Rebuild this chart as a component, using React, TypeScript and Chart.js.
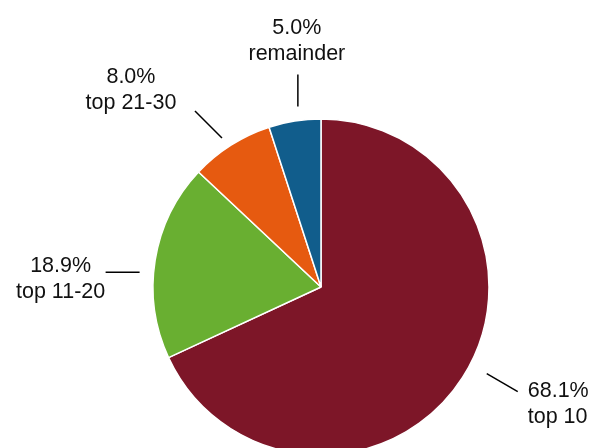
import React, { useEffect, useRef } from 'react';
import { Chart, registerables } from 'chart.js';
Chart.register(...registerables);

const categories = ['top 10', 'top 11-20', 'top 21-30', 'remainder'];
const shares = [68.1, 18.9, 8.0, 5.0];
const colors = ['#7D1628', '#69AF31', '#E65A10', '#115D8C'];

// label layout (styling only)
const angleNudgeDeg = [-5, -4.5, -1.2, 1.7];
const leaderGap = [19, 14, 11, 14];
const leaderVec: [number, number][] = [[31, 18], [-34, 0], [-27, -27], [0, -32]];
const textOffset: [number, number, CanvasTextAlign][] = [
  [10, 5, 'left'],
  [-45, 0, 'center'],
  [-64, -28, 'center'],
  [-1, -40, 'center'],
];
const FONT = '21.5px "Liberation Sans", Arial, Helvetica, sans-serif';
const LINE_H = 26;

const labelPlugin = {
  id: 'leaderLabels',
  afterDatasetsDraw(chart: any) {
    const ctx = chart.ctx;
    const meta = chart.getDatasetMeta(0);
    ctx.save();
    meta.data.forEach((arc: any, i: number) => {
      const { x, y, startAngle, endAngle, outerRadius } = arc.getProps(
        ['x', 'y', 'startAngle', 'endAngle', 'outerRadius'], true);
      const mid = (startAngle + endAngle) / 2 + (angleNudgeDeg[i] * Math.PI) / 180;
      const r = outerRadius + leaderGap[i];
      const sx = x + Math.cos(mid) * r;
      const sy = y + Math.sin(mid) * r;
      const ex = sx + leaderVec[i][0];
      const ey = sy + leaderVec[i][1];
      ctx.strokeStyle = '#000';
      ctx.lineWidth = 1.5;
      ctx.beginPath();
      ctx.moveTo(sx, sy);
      ctx.lineTo(ex, ey);
      ctx.stroke();
      ctx.fillStyle = '#111';
      ctx.font = FONT;
      ctx.textAlign = textOffset[i][2];
      ctx.textBaseline = 'alphabetic';
      const tx = ex + textOffset[i][0];
      const ty = ey + textOffset[i][1];
      ctx.fillText(shares[i].toFixed(1) + '%', tx, ty);
      ctx.fillText(categories[i], tx, ty + LINE_H);
    });
    ctx.restore();
  },
};

export default function App() {
  const ref = useRef<HTMLCanvasElement>(null);
  useEffect(() => {
    if (!ref.current) return;
    const chart = new Chart(ref.current, {
      type: 'pie',
      data: {
        labels: categories,
        datasets: [{
          data: shares,
          backgroundColor: colors,
          borderColor: '#ffffff',
          borderWidth: 1.5,
          clip: false as any,
        }],
      },
      options: {
        responsive: false,
        animation: false,
        radius: 168,
        layout: { padding: { left: 46, right: 0, top: 126, bottom: 0 } },
        plugins: { legend: { display: false }, tooltip: { enabled: false } },
      } as any,
      plugins: [labelPlugin],
    });
    return () => chart.destroy();
  }, []);
  return (
    <div style={{ position: 'absolute', left: 0, top: 0, width: 596, height: 448, background: '#fff' }}>
      <canvas ref={ref} width={596} height={448} style={{ width: 596, height: 448 }} />
    </div>
  );
}
